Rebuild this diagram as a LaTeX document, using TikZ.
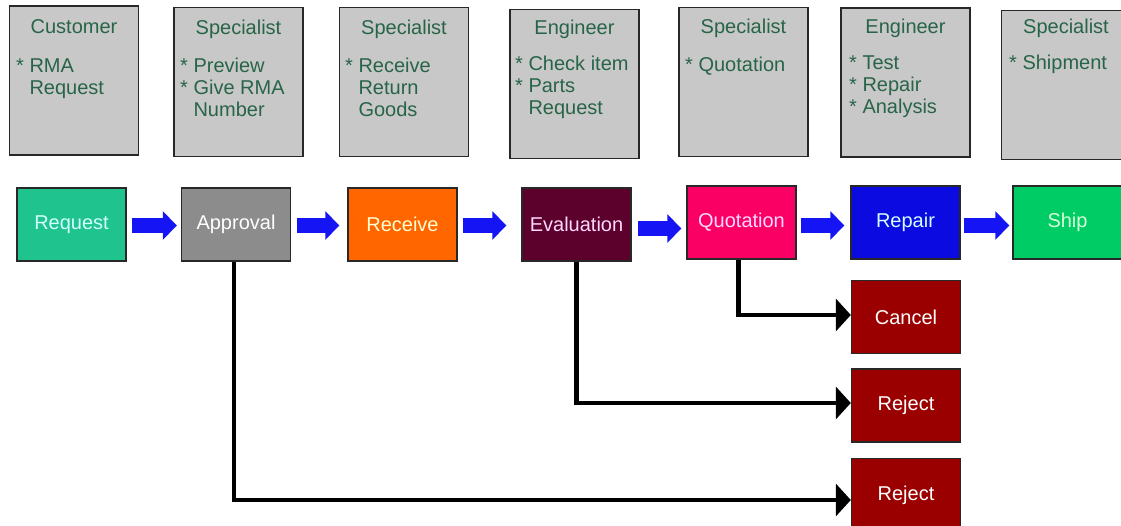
\documentclass[tikz,border=0pt]{standalone}
\usepackage{fontspec}
\setmainfont{Liberation Sans}
\usetikzlibrary{arrows.meta}
\definecolor{graybg}{RGB}{200,200,200}
\definecolor{boxline}{RGB}{40,40,40}
\definecolor{txtgreen}{RGB}{40,100,72}
\definecolor{creq}{RGB}{30,195,142}
\definecolor{capp}{RGB}{140,140,140}
\definecolor{crec}{RGB}{255,102,0}
\definecolor{ceva}{RGB}{92,0,44}
\definecolor{cquo}{RGB}{250,0,100}
\definecolor{crep}{RGB}{10,10,225}
\definecolor{cship}{RGB}{0,204,102}
\definecolor{cred}{RGB}{155,0,0}
\definecolor{arrblue}{RGB}{20,20,245}
\definecolor{tcyan}{RGB}{210,255,255}
\definecolor{tyellow}{RGB}{255,255,210}
\definecolor{tpink}{RGB}{255,215,255}
\definecolor{tgreen}{RGB}{215,255,215}
\begin{document}
\begin{tikzpicture}[x=1pt,y=-1pt,
  gbox/.style={draw=boxline, line width=1.8pt, fill=graybg, minimum width=129pt, minimum height=149pt, inner sep=0pt},
  cbox/.style={draw=boxline, line width=1.4pt, fill=#1, minimum width=109pt, minimum height=73pt, inner sep=0pt,
    font=\fontsize{20}{22}\selectfont},
  ttl/.style={anchor=base, inner sep=0pt, text=txtgreen, font=\fontsize{20}{22}\selectfont},
  bdy/.style={anchor=north west, inner sep=0pt, align=left, text=txtgreen, font=\fontsize{20}{22}\selectfont},
  barrow/.style={draw=arrblue, line width=15pt, -{Triangle[width=28pt,length=14pt]}},
  karrow/.style={draw=black, line width=4.5pt, line join=miter, -{Triangle[width=32pt,length=15pt]}}]
\useasboundingbox (0,0) rectangle (1121,526);
% top gray boxes
\node[gbox] (b1) at (74,80.5) {};
\node[gbox] (b2) at (238.5,82) {};
\node[gbox] (b3) at (404,82) {};
\node[gbox] (b4) at (574.5,84) {};
\node[gbox] (b5) at (743.5,82) {};
\node[gbox] (b6) at (905.5,82.5) {};
\node[gbox] (b7) at (1066,85) {};
% titles
\node[ttl] (t1) at (74,34) {Customer};
\node[ttl] (t2) at (238.5,35) {Specialist};
\node[ttl] (t3) at (404,35) {Specialist};
\node[ttl] (t4) at (574.5,35) {Engineer};
\node[ttl] (t5) at (743.5,34) {Specialist};
\node[ttl] (t6) at (905.5,34) {Engineer};
\node[ttl] (t7) at (1066,34) {Specialist};
% bodies
\node[bdy] (d1) at (16,57) {\strut* RMA\\\strut\phantom{* }Request};
\node[bdy] (d2) at (180,57) {\strut* Preview\\\strut* Give RMA\\\strut\phantom{* }Number};
\node[bdy] (d3) at (345,57) {\strut* Receive\\\strut\phantom{* }Return\\\strut\phantom{* }Goods};
\node[bdy] (d4) at (515,55) {\strut* Check item\\\strut* Parts\\\strut\phantom{* }Request};
\node[bdy] (d5) at (685,56) {\strut* Quotation};
\node[bdy] (d6) at (849,54) {\strut* Test\\\strut* Repair\\\strut* Analysis};
\node[bdy] (d7) at (1009,54) {\strut* Shipment};
% process boxes
\node[cbox=creq, text=tcyan] (req) at (71.5,224.5) {Request};
\node[cbox=capp, text=white] (app) at (236,224.5) {Approval};
\node[cbox=crec, text=tyellow] (rec) at (402.5,224.5) {Receive};
\node[cbox=ceva, text=tpink] (eva) at (576.5,224.5) {Evaluation};
\node[cbox=cquo, text=tpink] (quo) at (741.5,222.5) {Quotation};
\node[cbox=crep, text=tcyan] (rep) at (905.5,222.5) {Repair};
\node[cbox=cship, text=tgreen] (ship) at (1067.5,222.5) {Ship};
\node[cbox=cred, text=white] (cancel) at (906,317) {Cancel};
\node[cbox=cred, text=white] (rej1) at (906,405.5) {Reject};
\node[cbox=cred, text=white] (rej2) at (906,495) {Reject};
% blue arrows
\draw[barrow] ([xshift=5pt,yshift=-1pt]req.east) -- ([xshift=-4pt,yshift=-1pt]req.east -| app.west);
\draw[barrow] ([xshift=6pt,yshift=-1pt]app.east) -- ([xshift=-8pt,yshift=-1pt]app.east -| rec.west);
\draw[barrow] ([xshift=5pt,yshift=-1pt]rec.east) -- ([xshift=-15pt,yshift=-1pt]rec.east -| eva.west);
\draw[barrow] ([xshift=6pt,yshift=-4pt]eva.east) -- ([xshift=-5pt,yshift=-4pt]eva.east -| quo.west);
\draw[barrow] ([xshift=4pt,yshift=-3pt]quo.east) -- ([xshift=-6pt,yshift=-3pt]quo.east -| rep.west);
\draw[barrow] ([xshift=3pt,yshift=-3pt]rep.east) -- ([xshift=-3pt,yshift=-3pt]rep.east -| ship.west);
% black connectors
\draw[karrow] ([xshift=-3pt]quo.south) |- ([yshift=2pt]cancel.west);
\draw[karrow] (eva.south) |- ([yshift=2.5pt]rej1.west);
\draw[karrow] ([xshift=-2pt]app.south) |- ([yshift=-5pt]rej2.west);
\end{tikzpicture}
\end{document}
